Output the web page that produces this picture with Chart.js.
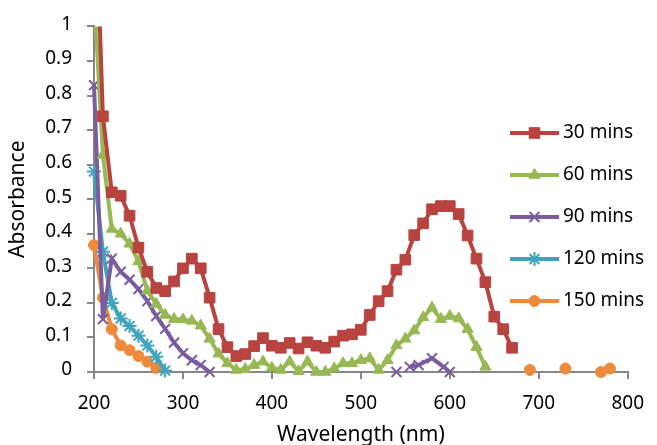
<!DOCTYPE html>
<html>
<head>
<meta charset="utf-8">
<title>Absorbance spectra</title>
<script src="https://cdn.jsdelivr.net/npm/chart.js@4.4.0/dist/chart.umd.min.js"></script>
<style>
  html, body { margin: 0; padding: 0; background: #fff; }
  #wrap { width: 657px; height: 445px; }
</style>
</head>
<body>
<div id="wrap"><canvas id="absChart" width="657" height="445"></canvas></div>
<script>
// wavelengths (nm) and absorbance per series
const wl30 = [200, 210, 220, 230, 240, 250, 260, 270, 280, 290, 300, 310, 320, 330, 340, 350, 360, 370, 380, 390,
              400, 410, 420, 430, 440, 450, 460, 470, 480, 490, 500, 510, 520, 530, 540, 550, 560, 570, 580, 590,
              600, 610, 620, 630, 640, 650, 660, 670];
const abs30 = [1.5, 0.74, 0.52, 0.51, 0.452, 0.36, 0.29, 0.243, 0.234, 0.262, 0.30, 0.328, 0.30, 0.215, 0.124, 0.072, 0.046, 0.052, 0.075, 0.098,
               0.076, 0.07, 0.084, 0.068, 0.086, 0.076, 0.07, 0.088, 0.105, 0.109, 0.122, 0.165, 0.205, 0.234, 0.296, 0.325, 0.396, 0.43, 0.471, 0.48,
               0.48, 0.457, 0.395, 0.328, 0.26, 0.16, 0.124, 0.07];

const wl60 = [200, 210, 220, 230, 240, 250, 260, 270, 280, 290, 300, 310, 320, 330, 340, 350, 360, 370, 380, 390,
              400, 410, 420, 430, 440, 450, 460, 470, 480, 490, 500, 510, 520, 530, 540, 550, 560, 570, 580, 590,
              600, 610, 620, 630, 640];
const abs60 = [1.1, 0.628, 0.414, 0.40, 0.371, 0.32, 0.235, 0.197, 0.165, 0.153, 0.152, 0.148, 0.134, 0.096, 0.053, 0.025, 0.006, 0.008, 0.02, 0.03,
               0.012, 0.006, 0.03, 0.002, 0.03, 0.0, 0.0, 0.01, 0.025, 0.025, 0.034, 0.039, 0.006, 0.034, 0.077, 0.096, 0.12, 0.158, 0.186, 0.153,
               0.162, 0.155, 0.124, 0.072, 0.015];

const wl90 = [200, 210, 220, 230, 240, 250, 260, 270, 280, 290, 300, 310, 320, 330, 340, 540, 550, 555, 565, 580, 593, 600];
const abs90 = [0.83, 0.153, 0.328, 0.29, 0.267, 0.24, 0.205, 0.162, 0.125, 0.085, 0.054, 0.034, 0.02, 0.0, null, 0.0, null, 0.015, 0.02, 0.04, 0.015, 0.0];

const wl120 = [200, 210, 220, 230, 240, 250, 260, 270, 280];
const abs120 = [0.58, 0.348, 0.2, 0.155, 0.133, 0.105, 0.077, 0.044, 0.004];

const wl150 = [200, 210, 220, 230, 240, 250, 260, 270, 280, 690, 700, 730, 740, 770, 780];
const abs150 = [0.367, 0.215, 0.124, 0.077, 0.063, 0.046, 0.03, 0.012, null, 0.006, null, 0.01, null, 0.0, 0.01];

const seriesNames = ['30 mins', '60 mins', '90 mins', '120 mins', '150 mins'];
const xTicks = [200, 300, 400, 500, 600, 700, 800];

const axisGrey = '#878787';
const fontName = '"Noto Sans", "Open Sans", sans-serif';

function pairs(xs, ys) {
    return xs.map((x, i) => ({ x: x, y: ys[i] }));
}

function makeSet(label, xs, ys, color, style, radius, bw, filled) {
    return {
        label: label,
        data: pairs(xs, ys),
        borderColor: color,
        backgroundColor: color,
        borderWidth: 4,
        pointStyle: style,
        pointRadius: radius,
        pointHoverRadius: radius,
        pointBackgroundColor: filled ? color : 'rgba(0,0,0,0)',
        pointBorderColor: color,
        pointBorderWidth: bw,
        tension: 0,
        spanGaps: false,
        clip: { left: 14, top: 0, right: 14, bottom: 14 }
    };
}

// legend drawn inside the plot, like the original
const insideLegend = {
    id: 'insideLegend',
    afterDraw(chart) {
        const ctx = chart.ctx;
        chart.data.datasets.forEach((ds, i) => {
            const y = 133 + i * 42;
            ctx.save();
            ctx.strokeStyle = ds.borderColor;
            ctx.lineWidth = 4;
            ctx.beginPath();
            ctx.moveTo(510, y);
            ctx.lineTo(559, y);
            ctx.stroke();
            ctx.fillStyle = ds.pointBackgroundColor;
            ctx.strokeStyle = ds.pointBorderColor;
            ctx.lineWidth = ds.pointBorderWidth;
            Chart.helpers.drawPoint(ctx, {
                pointStyle: ds.pointStyle,
                radius: ds.pointRadius,
                rotation: 0,
                borderWidth: ds.pointBorderWidth
            }, 534.5, y);
            ctx.fillStyle = '#000';
            ctx.font = '19px ' + fontName;
            ctx.textBaseline = 'middle';
            ctx.textAlign = 'left';
            ctx.fillText(ds.label, 563, y);
            ctx.restore();
        });
    }
};

const ctx = document.getElementById('absChart').getContext('2d');
new Chart(ctx, {
    type: 'line',
    data: {
        datasets: [
            makeSet(seriesNames[0], wl30, abs30, '#B8433F', 'rect', 7.5, 1, true),
            makeSet(seriesNames[1], wl60, abs60, '#97B853', 'triangle', 6.5, 1, true),
            makeSet(seriesNames[2], wl90, abs90, '#7B5C9E', 'crossRot', 7, 2, false),
            makeSet(seriesNames[3], wl120, abs120, '#3FA5BF', 'star', 7, 2, false),
            makeSet(seriesNames[4], wl150, abs150, '#EE8A3B', 'circle', 5.5, 1, true)
        ]
    },
    options: {
        responsive: false,
        animation: false,
        layout: { autoPadding: false, padding: { top: 21, right: 20, left: 0, bottom: 0 } },
        plugins: {
            legend: { display: false },
            tooltip: { enabled: false }
        },
        scales: {
            x: {
                type: 'linear',
                min: 200,
                max: 800,
                afterFit: s => { s.height = 73; },
                afterBuildTicks: s => { s.ticks = xTicks.map(v => ({ value: v })); },
                ticks: { color: '#000', font: { family: fontName, size: 19 }, padding: 13, maxRotation: 0 },
                grid: { drawOnChartArea: false, drawTicks: true, tickLength: 7, color: axisGrey, lineWidth: 2 },
                border: { color: axisGrey, width: 2 },
                title: {
                    display: true,
                    text: 'Wavelength (nm)',
                    color: '#000',
                    font: { family: fontName, size: 21 },
                    padding: { top: 0, bottom: -3 }
                }
            },
            y: {
                min: 0,
                max: 1,
                afterFit: s => { s.width = 94; },
                ticks: {
                    stepSize: 0.1,
                    color: '#000',
                    font: { family: fontName, size: 19 },
                    padding: 15,
                    labelOffset: -2,
                    callback: v => String(Number(v.toFixed(1)))
                },
                grid: { drawOnChartArea: false, drawTicks: true, tickLength: 7, color: axisGrey, lineWidth: 2 },
                border: { color: axisGrey, width: 2 },
                title: {
                    display: true,
                    text: 'Absorbance',
                    color: '#000',
                    font: { family: fontName, size: 21 },
                    padding: { top: 5, bottom: 0 }
                }
            }
        }
    },
    plugins: [insideLegend]
});
</script>
</body>
</html>
